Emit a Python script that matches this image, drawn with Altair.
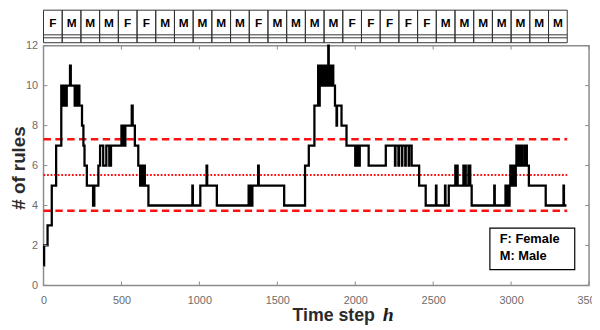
import altair as alt
import pandas as pd

# ---- data (change points of the step series) ----
step_t = [0, 4, 26, 53, 81, 114,
          127, 129, 134, 136, 141, 143, 147, 149,
          170, 175,
          200, 202, 208, 210, 216, 218, 224, 226, 230,
          247, 256, 263, 278, 318, 320, 324, 326,
          352, 363, 383, 403, 422, 433,
          500, 510, 513, 522, 525, 566, 572, 586, 608,
          620, 623, 630, 633, 640, 643, 650, 673,
          955, 958, 1006, 1046, 1050, 1112,
          1316, 1318, 1324, 1326, 1332, 1334, 1340, 1377, 1381, 1544, 1678, 1702, 1738,
          1762, 1765, 1772, 1775, 1786, 1789, 1800, 1803, 1814, 1817, 1827, 1830,
          1842, 1845, 1856, 1859, 1870, 1880, 1883, 1912, 1944,
          2000, 2003, 2012, 2015, 2026, 2029, 2086, 2196,
          2255, 2258, 2277, 2280, 2299, 2302, 2321, 2324, 2343, 2346, 2362, 2410, 2452,
          2518, 2521, 2576, 2579, 2600,
          2642, 2645, 2654, 2657, 2694, 2697, 2706, 2709, 2726, 2729, 2735, 2738, 2747,
          2892, 2895, 2964, 2967, 2976, 2979, 2990,
          2995, 2998, 3006, 3009, 3017, 3020, 3030,
          3034, 3037, 3050, 3053, 3066, 3069, 3084, 3087, 3098, 3101,
          3114, 3222, 3336, 3339, 3355]
step_rules = [1, 2, 3, 5, 7, 10,
              9, 10, 9, 10, 9, 10, 9, 10,
              11, 10,
              9, 10, 9, 10, 9, 10, 9, 10, 9,
              8, 7, 6, 5, 4, 5, 4, 5,
              6, 7, 6, 7, 6, 7,
              8, 7, 8, 7, 8, 9, 8, 7, 6,
              5, 6, 5, 6, 5, 6, 5, 4,
              5, 4, 5, 6, 5, 4,
              5, 4, 5, 4, 5, 4, 5, 6, 5, 4, 6, 7, 9,
              11, 9, 11, 10, 11, 10, 11, 10, 11, 10, 12, 10,
              11, 10, 11, 10, 9, 8, 9, 8, 7,
              6, 7, 6, 7, 6, 7, 6, 7,
              6, 7, 6, 7, 6, 7, 6, 7, 6, 7, 6, 5, 4,
              5, 4, 5, 4, 5,
              6, 5, 6, 5, 6, 5, 6, 5, 6, 5, 6, 5, 4,
              5, 4, 5, 4, 5, 4, 5,
              6, 5, 6, 5, 6, 5, 6,
              7, 6, 7, 6, 7, 6, 7, 6, 7, 6,
              5, 4, 5, 4, 4]

gender = list("FMMMFFMMMMMFMMMMFFFFFMMMMMMM")
block_steps = 120

ref_upper = 7.32
ref_mean = 5.53
ref_lower = 3.74
ref_end = 3360

x_ticks = [0, 500, 1000, 1500, 2000, 2500, 3000, 3500]
y_ticks = [0, 2, 4, 6, 8, 10, 12]
legend_labels = ["F: Female", "M: Male"]

# ---- layout ----
W, H = 553, 243
FONT = "Liberation Sans"
xs = alt.Scale(domain=[0, 3500], nice=False, zero=False)
ys = alt.Scale(domain=[0, 12], nice=False)

df = pd.DataFrame({"t": step_t, "rules": step_rules})

line = alt.Chart(df).mark_line(interpolate="step-after", color="black", strokeWidth=2.3).encode(
    x=alt.X("t:Q", scale=xs,
            axis=alt.Axis(values=x_ticks, format="d", title=None, grid=False, ticks=False, tickSize=0,
                          domain=False, labelColor="#6b6b6b", labelFontSize=11, labelFont=FONT,
                          labelPadding=9, labelFlush=False, labelOverlap=False)),
    y=alt.Y("rules:Q", scale=ys,
            axis=alt.Axis(values=y_ticks, title=None, grid=False, ticks=False, tickSize=0,
                          domain=False, labelColor="#6b6b6b", labelFontSize=11, labelFont=FONT,
                          labelPadding=6, labelFlush=False, labelOverlap=False)),
)

ref_df = pd.DataFrame({"level": [ref_upper, ref_lower], "t0": [0, 0], "t1": [ref_end, ref_end]})
ref_dash = alt.Chart(ref_df).mark_rule(color="#ff1010", strokeWidth=2.5, strokeDash=[7.5, 4.5]).encode(
    x=alt.X("t0:Q", scale=xs), x2="t1:Q", y=alt.Y("level:Q", scale=ys))
mean_df = pd.DataFrame({"level": [ref_mean], "t0": [0], "t1": [ref_end]})
ref_dot = alt.Chart(mean_df).mark_rule(color="#ff1010", strokeWidth=2, strokeDash=[1.8, 1.8]).encode(
    x=alt.X("t0:Q", scale=xs), x2="t1:Q", y=alt.Y("level:Q", scale=ys))

# inward ticks (MATLAB style)
xt = pd.DataFrame({"v": x_ticks})
yt = pd.DataFrame({"v": y_ticks})
tick_col = "#8c8c8c"
xt_bot = alt.Chart(xt).mark_rule(color=tick_col, strokeWidth=1).encode(
    x=alt.X("v:Q", scale=xs), y=alt.value(H), y2=alt.value(H - 4))
xt_top = alt.Chart(xt).mark_rule(color=tick_col, strokeWidth=1).encode(
    x=alt.X("v:Q", scale=xs), y=alt.value(0), y2=alt.value(4))
yt_left = alt.Chart(yt).mark_rule(color=tick_col, strokeWidth=1).encode(
    y=alt.Y("v:Q", scale=ys), x=alt.value(0), x2=alt.value(4))
yt_right = alt.Chart(yt).mark_rule(color=tick_col, strokeWidth=1).encode(
    y=alt.Y("v:Q", scale=ys), x=alt.value(W), x2=alt.value(W - 4))

# gender strip above the plot
strip_df = pd.DataFrame({
    "g": gender,
    "t0": [i * block_steps for i in range(len(gender))],
    "t1": [(i + 1) * block_steps for i in range(len(gender))],
    "tm": [(i + 0.5) * block_steps for i in range(len(gender))],
})
strip_col = "#333333"
strip_box = alt.Chart(strip_df).mark_rect(fillOpacity=0, stroke=strip_col, strokeWidth=1).encode(
    x=alt.X("t0:Q", scale=xs), x2="t1:Q", y=alt.value(-36), y2=alt.value(-3))
strip_end = pd.DataFrame({"t0": [0], "t1": [len(gender) * block_steps]})
strip_l1 = alt.Chart(strip_end).mark_rule(color=strip_col, strokeWidth=1).encode(
    x=alt.X("t0:Q", scale=xs), x2="t1:Q", y=alt.value(-11))
strip_l2 = alt.Chart(strip_end).mark_rule(color=strip_col, strokeWidth=1).encode(
    x=alt.X("t0:Q", scale=xs), x2="t1:Q", y=alt.value(-8))
strip_txt = alt.Chart(strip_df).mark_text(font=FONT, fontSize=12, fontWeight="bold", color="black",
                                          baseline="middle", align="center").encode(
    x=alt.X("tm:Q", scale=xs), y=alt.value(-23), text="g:N")

# legend box
one = pd.DataFrame({"a": [0]})
leg_box = alt.Chart(one).mark_rect(fill="white", stroke="black", strokeWidth=1.2).encode(
    x=alt.value(452.5), x2=alt.value(538.5), y=alt.value(185), y2=alt.value(227))
leg_df = pd.DataFrame({"txt": ["\n".join(legend_labels)]})
leg_txt = alt.Chart(leg_df).mark_text(font=FONT, fontSize=13, fontWeight="bold", color="black",
                                      align="left", baseline="top", lineBreak="\n", lineHeight=17).encode(
    x=alt.value(462.5), y=alt.value(190), text="txt:N")

# axis titles
ytitle = alt.Chart(one).mark_text(text="# of rules", font=FONT, fontSize=19, fontWeight="bold",
                                  color="#2b2b2b", angle=270, align="center", baseline="middle").encode(
    x=alt.value(-25), y=alt.value(124))
xtitle = alt.Chart(one).mark_text(text="Time step", font=FONT, fontSize=18, fontWeight="bold",
                                  color="#2b2b2b", align="right", baseline="alphabetic").encode(
    x=alt.value(336), y=alt.value(279))
xtitle_h = alt.Chart(one).mark_text(text="h", font="Liberation Serif", fontSize=20, fontWeight="bold",
                                    fontStyle="italic", color="#1a1a1a", align="left",
                                    baseline="alphabetic").encode(
    x=alt.value(344), y=alt.value(279))

chart = alt.layer(
    ref_dot, ref_dash, line, xt_bot, xt_top, yt_left, yt_right,
    strip_box, strip_l1, strip_l2, strip_txt, leg_box, leg_txt, ytitle, xtitle, xtitle_h
).properties(
    width=W, height=H,
    autosize=alt.AutoSizeParams(type="none"),
    padding={"left": 36, "top": 36, "right": 3, "bottom": 43},
).configure_view(stroke="#8c8c8c", strokeWidth=1.5)

chart.save("out.html", embed_options={"renderer": "svg", "actions": False})
